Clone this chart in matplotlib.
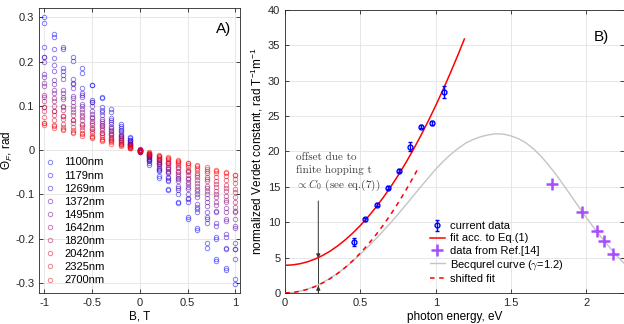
import matplotlib
matplotlib.use("Agg")
import matplotlib.pyplot as plt

plt.rcParams['font.family'] = ['Liberation Sans', 'DejaVu Sans']
plt.rcParams['mathtext.fontset'] = 'custom'
plt.rcParams['mathtext.rm'] = 'Liberation Sans'
plt.rcParams['mathtext.it'] = 'Liberation Sans:italic'

# ---- Panel A data: Faraday rotation vs field, two scans per wavelength ----
B_field = [-1.0, -0.9, -0.8, -0.7, -0.6, -0.5, -0.4, -0.3, -0.2, -0.1, 0.0,
           0.1, 0.2, 0.3, 0.4, 0.5, 0.6, 0.7, 0.8, 0.9, 1.0]
wavelengths = ['1100nm', '1179nm', '1269nm', '1372nm', '1495nm',
               '1642nm', '1820nm', '2042nm', '2325nm', '2700nm']

theta_1100_a = [0.300, 0.262, 0.233, 0.210, 0.185, 0.147, 0.121, 0.092, 0.060, 0.030, 0.002,
                -0.033, -0.062, -0.090, -0.120, -0.150, -0.180, -0.210, -0.245, -0.265, -0.290]
theta_1100_b = [0.287, 0.256, 0.228, 0.202, 0.175, 0.148, 0.117, 0.086, 0.055, 0.027, -0.002,
                -0.030, -0.058, -0.088, -0.118, -0.155, -0.175, -0.220, -0.250, -0.270, -0.302]
theta_1179_a = [0.233, 0.228, 0.186, 0.160, 0.140, 0.113, 0.097, 0.072, 0.050, 0.024, 0.000,
                -0.025, -0.048, -0.070, -0.098, -0.117, -0.140, -0.165, -0.195, -0.220, -0.245]
theta_1179_b = [0.211, 0.208, 0.180, 0.152, 0.130, 0.110, 0.090, 0.068, 0.046, 0.022, -0.003,
                -0.022, -0.045, -0.068, -0.090, -0.110, -0.132, -0.155, -0.200, -0.222, -0.222]
theta_1269_a = [0.210, 0.192, 0.170, 0.150, 0.125, 0.110, 0.086, 0.063, 0.043, 0.020, 0.000,
                -0.022, -0.043, -0.063, -0.085, -0.108, -0.128, -0.150, -0.172, -0.195, -0.222]
theta_1269_b = [0.200, 0.178, 0.160, 0.140, 0.120, 0.100, 0.080, 0.060, 0.040, 0.018, -0.004,
                -0.020, -0.040, -0.060, -0.080, -0.100, -0.122, -0.140, -0.165, -0.190, -0.210]
theta_1372_a = [0.173, 0.158, 0.137, 0.122, 0.105, 0.088, 0.070, 0.052, 0.035, 0.017, 0.000,
                -0.018, -0.035, -0.052, -0.070, -0.088, -0.106, -0.125, -0.140, -0.160, -0.175]
theta_1372_b = [0.165, 0.150, 0.130, 0.118, 0.100, 0.082, 0.066, 0.050, 0.032, 0.015, -0.003,
                -0.016, -0.032, -0.050, -0.066, -0.084, -0.100, -0.118, -0.138, -0.155, -0.172]
theta_1495_a = [0.151, 0.136, 0.120, 0.108, 0.092, 0.076, 0.062, 0.046, 0.031, 0.015, 0.001,
                -0.016, -0.031, -0.047, -0.062, -0.077, -0.092, -0.108, -0.124, -0.140, -0.155]
theta_1495_b = [0.145, 0.130, 0.115, 0.100, 0.087, 0.072, 0.058, 0.043, 0.028, 0.013, -0.002,
                -0.014, -0.028, -0.043, -0.058, -0.072, -0.087, -0.100, -0.118, -0.130, -0.140]
theta_1642_a = [0.124, 0.118, 0.100, 0.092, 0.080, 0.066, 0.054, 0.040, 0.027, 0.013, 0.000,
                -0.013, -0.027, -0.040, -0.053, -0.066, -0.080, -0.092, -0.105, -0.118, -0.138]
theta_1642_b = [0.120, 0.112, 0.098, 0.086, 0.074, 0.062, 0.050, 0.037, 0.024, 0.011, -0.002,
                -0.011, -0.024, -0.037, -0.050, -0.062, -0.074, -0.086, -0.100, -0.112, -0.128]
theta_1820_a = [0.112, 0.100, 0.090, 0.080, 0.068, 0.057, 0.046, 0.034, 0.023, 0.011, 0.000,
                -0.011, -0.023, -0.034, -0.046, -0.057, -0.068, -0.080, -0.092, -0.104, -0.117]
theta_1820_b = [0.097, 0.088, 0.078, 0.068, 0.060, 0.050, 0.040, 0.030, 0.020, 0.009, -0.002,
                -0.010, -0.020, -0.030, -0.040, -0.050, -0.060, -0.070, -0.082, -0.092, -0.105]
theta_2042_a = [0.097, 0.088, 0.078, 0.068, 0.058, 0.048, 0.038, 0.028, 0.019, 0.009, 0.000,
                -0.009, -0.019, -0.028, -0.038, -0.048, -0.057, -0.066, -0.076, -0.086, -0.095]
theta_2042_b = [0.089, 0.080, 0.070, 0.062, 0.052, 0.044, 0.034, 0.025, 0.017, 0.008, -0.002,
                -0.008, -0.017, -0.026, -0.034, -0.044, -0.052, -0.060, -0.070, -0.078, -0.088]
theta_2325_a = [0.075, 0.068, 0.060, 0.053, 0.046, 0.038, 0.030, 0.022, 0.015, 0.007, 0.000,
                -0.008, -0.015, -0.022, -0.030, -0.038, -0.045, -0.052, -0.060, -0.068, -0.075]
theta_2325_b = [0.062, 0.058, 0.052, 0.046, 0.040, 0.033, 0.026, 0.020, 0.013, 0.006, -0.002,
                -0.006, -0.013, -0.020, -0.026, -0.033, -0.040, -0.046, -0.052, -0.058, -0.066]
theta_2700_a = [0.062, 0.055, 0.048, 0.042, 0.036, 0.030, 0.024, 0.018, 0.012, 0.006, 0.000,
                -0.006, -0.012, -0.018, -0.024, -0.030, -0.036, -0.042, -0.048, -0.052, -0.057]
theta_2700_b = [0.058, 0.050, 0.045, 0.038, 0.033, 0.027, 0.021, 0.015, 0.010, 0.004, -0.002,
                -0.005, -0.010, -0.016, -0.022, -0.028, -0.033, -0.038, -0.044, -0.050, -0.055]

theta_scans = [
    (theta_1100_a, theta_1100_b), (theta_1179_a, theta_1179_b),
    (theta_1269_a, theta_1269_b), (theta_1372_a, theta_1372_b),
    (theta_1495_a, theta_1495_b), (theta_1642_a, theta_1642_b),
    (theta_1820_a, theta_1820_b), (theta_2042_a, theta_2042_b),
    (theta_2325_a, theta_2325_b), (theta_2700_a, theta_2700_b),
]

a_xticks = [-1, -0.5, 0, 0.5, 1]
a_xticklabels = ['-1', '-0.5', '0', '0.5', '1']
a_yticks = [-0.3, -0.2, -0.1, 0, 0.1, 0.2, 0.3]
a_yticklabels = ['-0.3', '-0.2', '-0.1', '0', '0.1', '0.2', '0.3']

# ---- Panel B data ----
energy_meas = [0.459, 0.533, 0.607, 0.681, 0.755, 0.829, 0.904, 0.977, 1.052]
verdet_meas = [7.2, 10.4, 12.5, 14.9, 17.3, 20.7, 23.5, 24.0, 28.4]
verdet_err = [0.5, 0.25, 0.25, 0.25, 0.25, 0.6, 0.25, 0.3, 0.9]

energy_ref = [1.77, 1.97, 2.07, 2.12, 2.18]
verdet_ref = [15.4, 11.5, 8.7, 7.4, 5.5]

energy_fit = [0.0, 0.05, 0.1, 0.15, 0.2, 0.25, 0.3, 0.35, 0.4, 0.45, 0.5, 0.55, 0.6,
              0.65, 0.7, 0.75, 0.8, 0.85, 0.9, 0.95, 1.0, 1.05, 1.1, 1.15, 1.19]
verdet_fit = [3.9, 3.96, 4.13, 4.41, 4.80, 5.31, 5.93, 6.67, 7.52, 8.48, 9.55, 10.74, 12.04,
              13.45, 14.97, 16.61, 18.36, 20.23, 22.21, 24.30, 26.5, 28.82, 31.25, 33.79, 35.9]

energy_shift = [0.0, 0.05, 0.1, 0.15, 0.2, 0.25, 0.3, 0.35, 0.4, 0.45, 0.5, 0.55, 0.6,
                0.65, 0.7, 0.75, 0.8, 0.85, 0.89]
verdet_shift = [0.0, 0.06, 0.23, 0.51, 0.90, 1.41, 2.03, 2.77, 3.62, 4.58, 5.65, 6.84, 8.14,
                9.55, 11.07, 12.71, 14.46, 16.33, 17.9]

energy_becq = [0.0, 0.05, 0.1, 0.15, 0.2, 0.25, 0.3, 0.35, 0.4, 0.45, 0.5, 0.55, 0.6, 0.65,
               0.7, 0.75, 0.8, 0.85, 0.9, 0.95, 1.0, 1.05, 1.1, 1.15, 1.2, 1.25, 1.3, 1.35,
               1.4, 1.45, 1.5, 1.55, 1.6, 1.65, 1.7, 1.75, 1.8, 1.85, 1.9, 1.95, 2.0, 2.05,
               2.1, 2.15, 2.2, 2.25]
verdet_becq = [0.0, 0.06, 0.25, 0.55, 0.95, 1.47, 2.1, 2.8, 3.6, 4.5, 5.5, 6.5, 7.6, 8.75,
               9.9, 11.15, 12.4, 13.7, 15.0, 16.25, 17.5, 18.6, 19.6, 20.45, 21.2, 21.7, 22.1,
               22.35, 22.5, 22.45, 22.2, 21.8, 21.2, 20.35, 19.3, 18.05, 16.7, 15.2, 13.7,
               12.15, 10.65, 9.2, 7.85, 6.55, 5.3, 4.2]

b_xticks = [0, 0.5, 1, 1.5, 2]
b_xticklabels = ['0', '0.5', '1', '1.5', '2']
b_yticks = [0, 5, 10, 15, 20, 25, 30, 35, 40]

arrow_x = 0.22
arrow_top = 13.0
arrow_fit_y = 4.9
arrow_shift_y = 1.0


def style_axes(ax):
    ax.grid(True, color='#e3e3e3', linewidth=0.6)
    ax.set_axisbelow(True)
    for s in ax.spines.values():
        s.set_color('#262626')
        s.set_linewidth(0.6)
    ax.tick_params(direction='in', length=3, width=0.6, labelsize=8,
                   colors='#262626', top=True, right=True)


fig = plt.figure(figsize=(6.24, 3.24), dpi=100)

# ---------------- Panel A ----------------
ax1 = fig.add_axes([0.063, 0.095, 0.322, 0.88])
n = len(wavelengths)
for i, (lab, scans) in enumerate(zip(wavelengths, theta_scans)):
    t = i / (n - 1)
    col = (t, 0.0, 1.0 - t, 0.5)
    for j, sc in enumerate(scans):
        ax1.plot(B_field, sc, 'o', mfc='none', mec=col, ms=3.2, mew=0.7,
                 label=lab if j == 0 else None)
ax1.set_xlim(-1.05, 1.05)
ax1.set_ylim(-0.323, 0.321)
ax1.set_xticks(a_xticks)
ax1.set_xticklabels(a_xticklabels)
ax1.set_yticks(a_yticks)
ax1.set_yticklabels(a_yticklabels)
style_axes(ax1)
ax1.set_xlabel('B, T', fontsize=8.5, labelpad=2)
ax1.set_ylabel(r'$\Theta_F$, rad', fontsize=8.5, labelpad=0)
ax1.text(0.955, 0.95, 'A)', transform=ax1.transAxes, ha='right', va='top',
         fontsize=11)
ax1.legend(loc='lower left', bbox_to_anchor=(-0.01, 0.0), frameon=False,
           fontsize=8, handlelength=0.8, handletextpad=0.9,
           labelspacing=0.28, borderaxespad=0.3)

# ---------------- Panel B ----------------
ax2 = fig.add_axes([0.457, 0.096, 0.543, 0.873])
h_meas = ax2.errorbar(energy_meas, verdet_meas, yerr=verdet_err, fmt='o', color='#0000ff',
                      mfc='none', mec='#0000ff', ms=3.5, mew=1.0, elinewidth=1.0,
                      capsize=1.5, capthick=1.0, zorder=5)
h_fit, = ax2.plot(energy_fit, verdet_fit, '-', color='#ff0000', lw=1.1, zorder=4)
h_ref, = ax2.plot(energy_ref, verdet_ref, '+', color='#a64dff', ms=8, mew=1.8, zorder=5)
h_becq, = ax2.plot(energy_becq, verdet_becq, '-', color='#c4c4c4', lw=1.0, zorder=3)
h_shift, = ax2.plot(energy_shift, verdet_shift, '--', color='#ff0000', lw=1.1,
                    dashes=(3, 3), zorder=4)

ax2.annotate('', xy=(arrow_x, arrow_fit_y), xytext=(arrow_x, arrow_top),
             arrowprops=dict(arrowstyle='-|>', color='#333333', lw=0.7,
                             mutation_scale=6, shrinkA=0, shrinkB=0))
ax2.plot([arrow_x, arrow_x], [0, arrow_fit_y], '-', color='#333333', lw=0.7)
ax2.annotate('', xy=(arrow_x, arrow_shift_y), xytext=(arrow_x, 0),
             arrowprops=dict(arrowstyle='-|>', color='#333333', lw=0.7,
                             mutation_scale=6, shrinkA=0, shrinkB=0))
ax2.text(0.075, 14.1, 'offset due to\nfinite hopping t\n' + r'$\propto C_0$ (see eq.(7))',
         fontsize=8.0, family='cmr10', math_fontfamily='cm', color='#404040',
         ha='left', va='bottom', linespacing=1.3)

ax2.set_xlim(0, 2.25)
ax2.set_ylim(0, 40)
ax2.set_xticks(b_xticks)
ax2.set_xticklabels(b_xticklabels)
ax2.set_yticks(b_yticks)
style_axes(ax2)
ax2.set_xlabel('photon energy, eV', fontsize=8.5, labelpad=2)
ax2.set_ylabel(r'normalized Verdet constant, rad T$^{\mathregular{-1}}$m$^{\mathregular{-1}}$',
               fontsize=8.5, labelpad=2)
ax2.text(0.955, 0.93, 'B)', transform=ax2.transAxes, ha='right', va='top',
         fontsize=11)
leg2 = ax2.legend([h_meas, h_fit, h_ref, h_becq, h_shift],
                  ['current data', 'fit acc. to Eq.(1)', 'data from Ref.[14]',
                   r'Becqurel curve ($\gamma$=1.2)', 'shifted fit'],
                  loc='lower left', bbox_to_anchor=(0.40, 0.0), frameon=False,
                  fontsize=8, handlelength=1.4, handletextpad=0.4,
                  labelspacing=0.2, borderaxespad=0.4)
for txt in leg2.get_texts():
    if 'gamma' in txt.get_text():
        txt.set_math_fontfamily('cm')

fig.savefig('out.png', dpi=100)
